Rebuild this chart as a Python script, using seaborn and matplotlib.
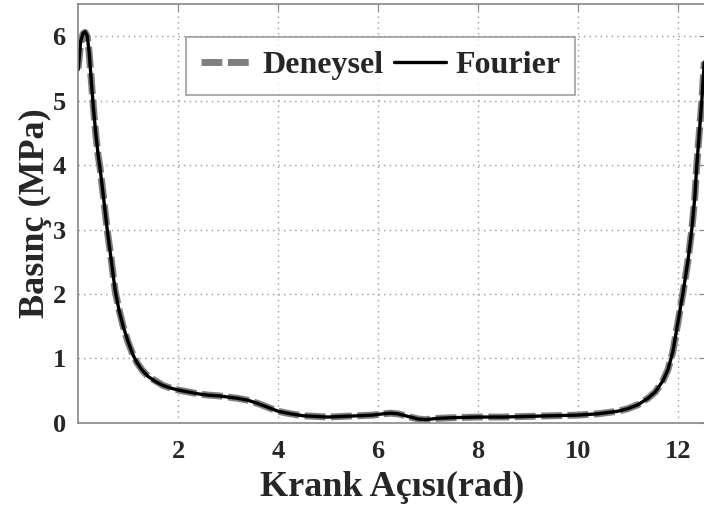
import numpy as np
import pandas as pd
import matplotlib
matplotlib.use("Agg")
import matplotlib.pyplot as plt
import seaborn as sns

# Crank angle (rad) and pressure (MPa)
angle = [0.00, 0.05, 0.10, 0.14, 0.18, 0.22, 0.26, 0.30, 0.35, 0.40, 0.44, 0.50,
         0.58, 0.66, 0.74, 0.82, 0.90, 1.00, 1.10, 1.18, 1.28, 1.40, 1.55, 1.70,
         1.85, 2.00, 2.20, 2.40, 2.60, 2.80, 3.00, 3.20, 3.40, 3.60, 3.80, 4.00,
         4.25, 4.50, 4.75, 5.00, 5.30, 5.60, 5.90, 6.10, 6.25, 6.40, 6.60, 6.80,
         6.95, 7.20, 7.50, 8.00, 8.50, 9.00, 9.50, 10.00, 10.40, 10.80, 11.00,
         11.20, 11.40, 11.55, 11.70, 11.80, 11.90, 12.00, 12.10, 12.20, 12.28,
         12.34, 12.38, 12.43, 12.48, 12.53]
deneysel = [5.50, 5.90, 6.04, 6.06, 6.00, 5.75, 5.35, 4.95, 4.50, 4.15, 3.95, 3.55,
            3.00, 2.55, 2.05, 1.75, 1.50, 1.25, 1.05, 0.93, 0.82, 0.72, 0.65, 0.58,
            0.54, 0.51, 0.48, 0.45, 0.43, 0.42, 0.40, 0.38, 0.35, 0.30, 0.24, 0.18,
            0.14, 0.11, 0.10, 0.09, 0.10, 0.11, 0.12, 0.14, 0.15, 0.14, 0.10, 0.06,
            0.05, 0.07, 0.08, 0.09, 0.09, 0.10, 0.11, 0.12, 0.14, 0.18, 0.22,
            0.28, 0.38, 0.48, 0.65, 0.82, 1.10, 1.55, 2.00, 2.50, 3.00,
            3.50, 4.00, 4.50, 5.00, 5.60]
fourier = [5.48, 5.92, 6.05, 6.07, 6.01, 5.76, 5.34, 4.94, 4.51, 4.16, 3.94, 3.55,
           3.01, 2.54, 2.06, 1.74, 1.50, 1.26, 1.05, 0.93, 0.82, 0.72, 0.64, 0.58,
           0.54, 0.51, 0.48, 0.45, 0.43, 0.42, 0.40, 0.38, 0.35, 0.30, 0.24, 0.18,
           0.14, 0.11, 0.10, 0.09, 0.10, 0.11, 0.12, 0.14, 0.15, 0.14, 0.10, 0.06,
           0.05, 0.07, 0.08, 0.09, 0.09, 0.10, 0.11, 0.12, 0.14, 0.18, 0.22,
           0.28, 0.38, 0.48, 0.65, 0.82, 1.10, 1.55, 2.00, 2.50, 3.00,
           3.50, 4.00, 4.50, 5.00, 5.60]
x_ticks = [2, 4, 6, 8, 10, 12]
y_ticks = [0, 1, 2, 3, 4, 5, 6]

df = pd.DataFrame({"angle": angle, "Deneysel": deneysel, "Fourier": fourier})

sns.set_style("white")
plt.rcParams["font.family"] = ["Liberation Serif", "DejaVu Serif"]
plt.rcParams["font.weight"] = "bold"

fig = plt.figure(figsize=(7.04, 5.07), dpi=100)
ax = fig.add_axes([0.111, 0.166, 0.892, 0.826])

sns.lineplot(data=df, x="angle", y="Deneysel", ax=ax, color="#7f7f7f",
             linewidth=5.0, linestyle=(0, (3.0, 0.8)), label="Deneysel")
sns.lineplot(data=df, x="angle", y="Fourier", ax=ax, color="black",
             linewidth=2.4, label="Fourier")

ax.set_xlim(0, 4 * np.pi)
ax.set_ylim(0, 6.5)
ax.set_xticks(x_ticks)
ax.set_yticks(y_ticks)
ax.set_xticklabels([str(t) for t in x_ticks], fontsize=19, fontweight="bold")
ax.set_yticklabels([str(t) for t in y_ticks], fontsize=19, fontweight="bold")
ax.tick_params(direction="in", length=5, color="#888888", top=True, right=True)
ax.tick_params(axis="x", pad=12)
ax.tick_params(axis="y", pad=9)
ax.grid(True, linestyle=(0, (1, 3)), color="#999999", linewidth=1.0)

for s in ax.spines.values():
    s.set_color("#888888")
    s.set_linewidth(1.2)

ax.set_xlabel("Krank Açısı(rad)", fontsize=26, fontweight="bold", labelpad=6)
ax.set_ylabel("Basınç (MPa)", fontsize=26, fontweight="bold", labelpad=0)

leg = ax.legend(loc="upper left", bbox_to_anchor=(0.172, 0.922), ncol=2,
                prop={"family": "Liberation Serif", "weight": "bold", "size": 23},
                frameon=True, fancybox=False, handlelength=1.65, columnspacing=0.3,
                handletextpad=0.3, borderpad=0.45, borderaxespad=0)
leg.get_frame().set_edgecolor("#888888")
leg.get_frame().set_linewidth(1.2)
for h in leg.get_lines():
    if h.get_color() == "black":
        h.set_linewidth(2.4)

fig.savefig("out.png", dpi=100)
